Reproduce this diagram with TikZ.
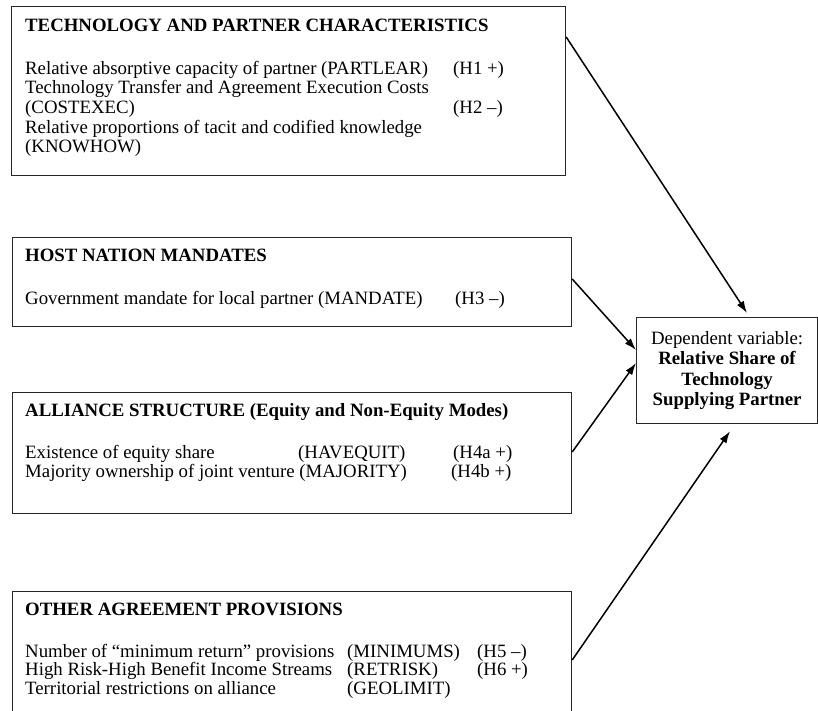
\documentclass[tikz,border=0pt]{standalone}
\usepackage{fontspec}
\setmainfont{Liberation Serif}
\usetikzlibrary{arrows.meta}

\tikzset{%
  panel/.style={draw=black!85, line width=1.2pt, anchor=north west, inner sep=0pt},
  entry/.style={anchor=base west, inner sep=0pt, font=\fontsize{18.8}{19.5}\selectfont},
  heading/.style={entry, font=\fontsize{18.8}{19.5}\selectfont\bfseries},
  result/.style={draw=black!85, line width=1.2pt, inner sep=0pt, minimum width=181pt, minimum height=106pt, align=center, font=\fontsize{18.8}{20.5}\selectfont},
  link/.style={draw, thick, line width=1.5pt, color=black, -{Latex[length=12pt,width=8pt]}},
}

\begin{document}
\begin{tikzpicture}[x=1pt,y=-1pt]
\clip (0,0) rectangle (818,710);
% boxes
\node[panel, minimum width=554pt, minimum height=169pt] (techbox) at (11,6) {};
\node[panel, minimum width=559pt, minimum height=89pt] (hostbox) at (12,237) {};
\node[panel, minimum width=559pt, minimum height=121pt] (allybox) at (12,392) {};
\node[panel, minimum width=559pt, minimum height=140pt] (otherbox) at (12,591) {};
\node[result, anchor=north west] (depbox) at (636,317) {Dependent variable:\\\textbf{Relative Share of}\\\textbf{Technology}\\\textbf{Supplying Partner}};

% technology and partner
\node[heading] (techhead) at (25,31) {TECHNOLOGY AND PARTNER CHARACTERISTICS};
\node[entry] (partlear) at (25,74) {Relative absorptive capacity of partner (PARTLEAR)};
\node[entry] (hone) at (453,74) {(H1 +)};
\node[entry] (costexec) at (25,93.5) {Technology Transfer and Agreement Execution Costs};
\node[entry] (costexecb) at (25,113.5) {(COSTEXEC)};
\node[entry] (htwo) at (453,113.5) {(H2 --)};
\node[entry] (knowhow) at (25,133) {Relative proportions of tacit and codified knowledge};
\node[entry] (knowhowb) at (25,152.5) {(KNOWHOW)};

% host nation
\node[heading] (hosthead) at (25,261) {HOST NATION MANDATES};
\node[entry] (mandate) at (25,304) {Government mandate for local partner (MANDATE)};
\node[entry] (hthree) at (455,304) {(H3 --)};

% alliance structure
\node[heading] (allyhead) at (25,416) {ALLIANCE STRUCTURE (Equity and Non-Equity Modes)};
\node[entry] (equity) at (25,458) {Existence of equity share};
\node[entry] (havequit) at (298,458) {(HAVEQUIT)};
\node[entry] (hfoura) at (453,458) {(H4a +)};
\node[entry] (majority) at (25,477) {Majority ownership of joint venture (MAJORITY)};
\node[entry] (hfourb) at (451,477) {(H4b +)};

% other provisions
\node[heading] (otherhead) at (25,615) {OTHER AGREEMENT PROVISIONS};
\node[entry] (minret) at (25,657) {Number of “minimum return” provisions};
\node[entry] (minimums) at (347,657) {(MINIMUMS)};
\node[entry] (hfive) at (477,657) {(H5 --)};
\node[entry] (risk) at (25,675.5) {High Risk-High Benefit Income Streams};
\node[entry] (retrisk) at (347,675.5) {(RETRISK)};
\node[entry] (hsix) at (477,675.5) {(H6 +)};
\node[entry] (terr) at (25,694) {Territorial restrictions on alliance};
\node[entry] (geolimit) at (347,694) {(GEOLIMIT)};

\draw[link] ([yshift=-31pt]techbox.north east) -- ([xshift=111pt,yshift=4pt]depbox.north west);
\draw[link] ([yshift=-42pt]hostbox.north east) -- ([yshift=-33pt]depbox.north west);
\draw[link] ([yshift=-60pt]allybox.north east) -- ([yshift=-46pt]depbox.north west);
\draw[link] ([yshift=-69pt]otherbox.north east) -- ([xshift=94pt,yshift=-7pt]depbox.south west);
\end{tikzpicture}
\end{document}
